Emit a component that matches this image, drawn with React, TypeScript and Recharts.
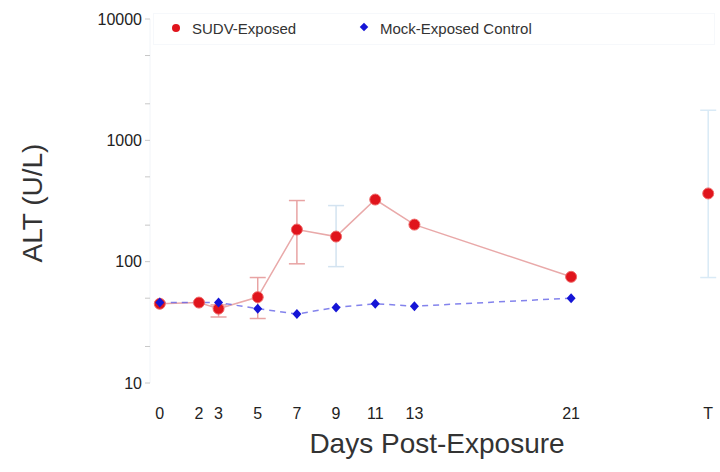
import React from 'react';
import { ComposedChart, Line, XAxis, YAxis, ErrorBar } from 'recharts';

// ---- data ----
const sudvDays = [0, 2, 3, 5, 7, 9, 11, 13, 21];
const sudvALT = [45, 46, 41, 51, 184, 161, 325, 202, 75];
const sudvErrRed: (number[] | null)[] = [null, null, [6, 3], [17, 23], [88, 135], null, null, null, null];
const sudvErrBlue: (number[] | null)[] = [null, null, null, null, null, [70, 129], null, null, null];

const mockDays = [0, 3, 5, 7, 9, 11, 13, 21];
const mockALT = [46, 46, 41, 37, 42, 45, 43, 50];

const terminalDay = 28;
const terminalALT = 365;
const terminalErr = [291, 1405];

const xTicks = [0, 2, 3, 5, 7, 9, 11, 13, 21, 28];
const xTickLabels: Record<number, string> = { 28: 'T' };
const yTicks = [10, 20, 50, 100, 200, 500, 1000, 2000, 5000, 10000];
const yMajor = [10, 100, 1000, 10000];

const sudvData = sudvDays.map((d, i) => ({
  day: d,
  alt: sudvALT[i],
  errR: sudvErrRed[i] ?? undefined,
  errB: sudvErrBlue[i] ?? undefined,
}));
const mockData = mockDays.map((d, i) => ({ day: d, alt: mockALT[i] }));
const terminalData = [{ day: terminalDay, alt: terminalALT, err: terminalErr }];

const FONT = '"Liberation Sans", Arial, Helvetica, sans-serif';

const Diamond = (props: any) => {
  const { cx, cy } = props;
  if (cx == null || cy == null) return null;
  return (
    <path
      d={`M${cx},${cy - 5}L${cx + 4.5},${cy}L${cx},${cy + 5}L${cx - 4.5},${cy}Z`}
      fill="#1515d6"
    />
  );
};

const YTick = (props: any) => {
  const { x, y, payload } = props;
  const v = payload.value;
  if (!yMajor.includes(v)) return null;
  return (
    <text x={x} y={y} textAnchor="end" dominantBaseline="central" fontSize={16} fill="#222" fontFamily={FONT}>
      {v}
    </text>
  );
};

export default function App() {
  return (
    <div style={{ position: 'absolute', left: 0, top: 0, width: 720, height: 472, background: '#fff' }}>
      <ComposedChart
        width={720}
        height={472}
        margin={{ top: 19, right: 2, bottom: 0, left: 0 }}
        style={{ fontFamily: FONT }}
      >
        <XAxis
          type="number"
          dataKey="day"
          domain={[-0.5, 28.5]}
          ticks={xTicks}
          interval={0}
          allowDataOverflow
          height={89}
          axisLine={false}
          tickLine={false}
          tickMargin={19}
          tick={{ fontSize: 16, fill: '#222', fontFamily: FONT }}
          tickFormatter={(v: number) => xTickLabels[v] ?? String(v)}
          label={{
            content: (p: any) => {
              const vb = p.viewBox || { x: 150, y: 383, width: 568, height: 89 };
              return (
                <text
                  x={vb.x + vb.width / 2 + 3}
                  y={453}
                  textAnchor="middle"
                  fontSize={28}
                  fill="#333"
                  fontFamily={FONT}
                >
                  Days Post-Exposure
                </text>
              );
            },
          }}
        />
        <YAxis
          type="number"
          scale="log"
          domain={[10, 10000]}
          ticks={yTicks}
          interval={0}
          allowDataOverflow
          width={150}
          axisLine={{ stroke: '#f1f4f8' }}
          tickLine={{ stroke: '#c8c8c8' }}
          tickSize={5}
          tickMargin={3}
          tick={<YTick />}
          label={{
            content: () => {
              const cx = 42;
              const cy = 203;
              return (
                <text
                  x={cx}
                  y={cy}
                  transform={`rotate(-90 ${cx} ${cy})`}
                  textAnchor="middle"
                  fontSize={28}
                  fill="#333"
                  fontFamily={FONT}
                >
                  ALT (U/L)
                </text>
              );
            },
          }}
        />
        <Line
          data={sudvData}
          dataKey="alt"
          stroke="#e9a9a9"
          strokeWidth={1.5}
          dot={{ r: 5.5, fill: '#e0141c', stroke: '#f06a6a', strokeWidth: 1 }}
          isAnimationActive={false}
        >
          <ErrorBar dataKey="errR" direction="y" width={8} stroke="#e8a3a3" strokeWidth={1.5} />
          <ErrorBar dataKey="errB" direction="y" width={8} stroke="#d3e3f0" strokeWidth={1.5} />
        </Line>
        <Line
          data={terminalData}
          dataKey="alt"
          stroke="none"
          dot={{ r: 5.5, fill: '#e0141c', stroke: '#f06a6a', strokeWidth: 1 }}
          isAnimationActive={false}
        >
          <ErrorBar dataKey="err" direction="y" width={8} stroke="#d9eaf6" strokeWidth={1.5} />
        </Line>
        <Line
          data={mockData}
          dataKey="alt"
          stroke="#5a5ae6"
          strokeOpacity={0.75}
          strokeWidth={1.5}
          strokeDasharray="6 5"
          dot={<Diamond />}
          isAnimationActive={false}
        />
      </ComposedChart>
      <div
        style={{
          position: 'absolute',
          left: 153,
          top: 13,
          width: 560,
          height: 30,
          border: '1px solid #f6f8fb',
          fontFamily: FONT,
          fontSize: 15,
          color: '#333',
        }}
      >
        <span style={{ position: 'absolute', left: 18, top: 10, width: 8, height: 8, borderRadius: 4, background: '#e0141c' }} />
        <span style={{ position: 'absolute', left: 38, top: 6, whiteSpace: 'nowrap', lineHeight: '17px' }}>SUDV-Exposed</span>
        <span style={{ position: 'absolute', left: 207, top: 10, width: 6, height: 6, background: '#1515d6', transform: 'rotate(45deg)' }} />
        <span style={{ position: 'absolute', left: 226, top: 6, whiteSpace: 'nowrap', lineHeight: '17px' }}>Mock-Exposed Control</span>
      </div>
    </div>
  );
}
